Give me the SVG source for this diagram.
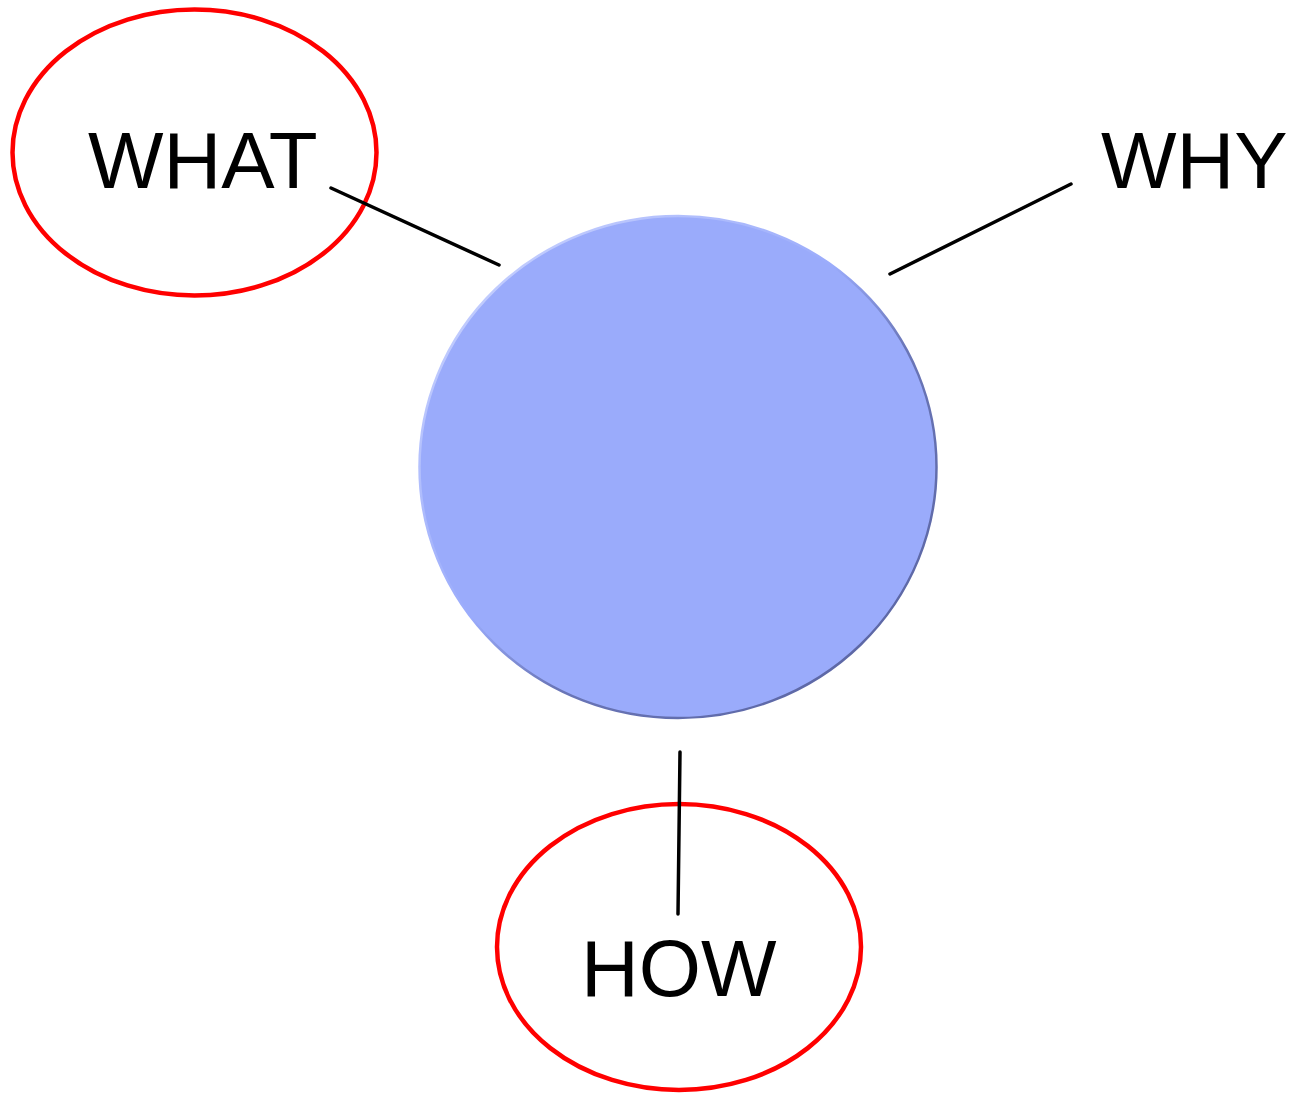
<svg xmlns="http://www.w3.org/2000/svg" width="1295" height="1093" viewBox="0 0 1295 1093">
<style>
.lbl{font-family:"Liberation Sans",Arial,sans-serif;font-size:80px;fill:#000}
.ring{fill:none;stroke:#ff0000;stroke-width:4.5}
.conn{stroke:#000;stroke-width:3.5;stroke-linecap:round;fill:none}
</style>
<defs>
<linearGradient id="edge" x1="0" y1="0" x2="1" y2="1">
<stop offset="0" stop-color="#d2daff"/>
<stop offset="0.45" stop-color="#9aabfb"/>
<stop offset="0.6" stop-color="#6a76b8"/>
<stop offset="1" stop-color="#56609c"/>
</linearGradient>
</defs>
<rect width="1295" height="1093" fill="#fff"/>
<g id="center">
<ellipse cx="678" cy="467" rx="258.5" ry="251" fill="#9aabfb" stroke="url(#edge)" stroke-width="2.5"/>
</g>
<g id="what">
<ellipse class="ring" cx="194.5" cy="152.5" rx="182" ry="143"/>
<text class="lbl" x="88" y="188">WHAT</text>
</g>
<g id="why">
<text class="lbl" x="1101" y="188">WHY</text>
</g>
<g id="how">
<ellipse class="ring" cx="679" cy="947" rx="182" ry="143"/>
<text class="lbl" x="581" y="996">HOW</text>
</g>
<g id="connectors">
<line class="conn" x1="331" y1="188" x2="499" y2="265"/>
<line class="conn" x1="890" y1="274" x2="1071" y2="184"/>
<line class="conn" x1="680" y1="752" x2="678" y2="914"/>
</g>
</svg>
